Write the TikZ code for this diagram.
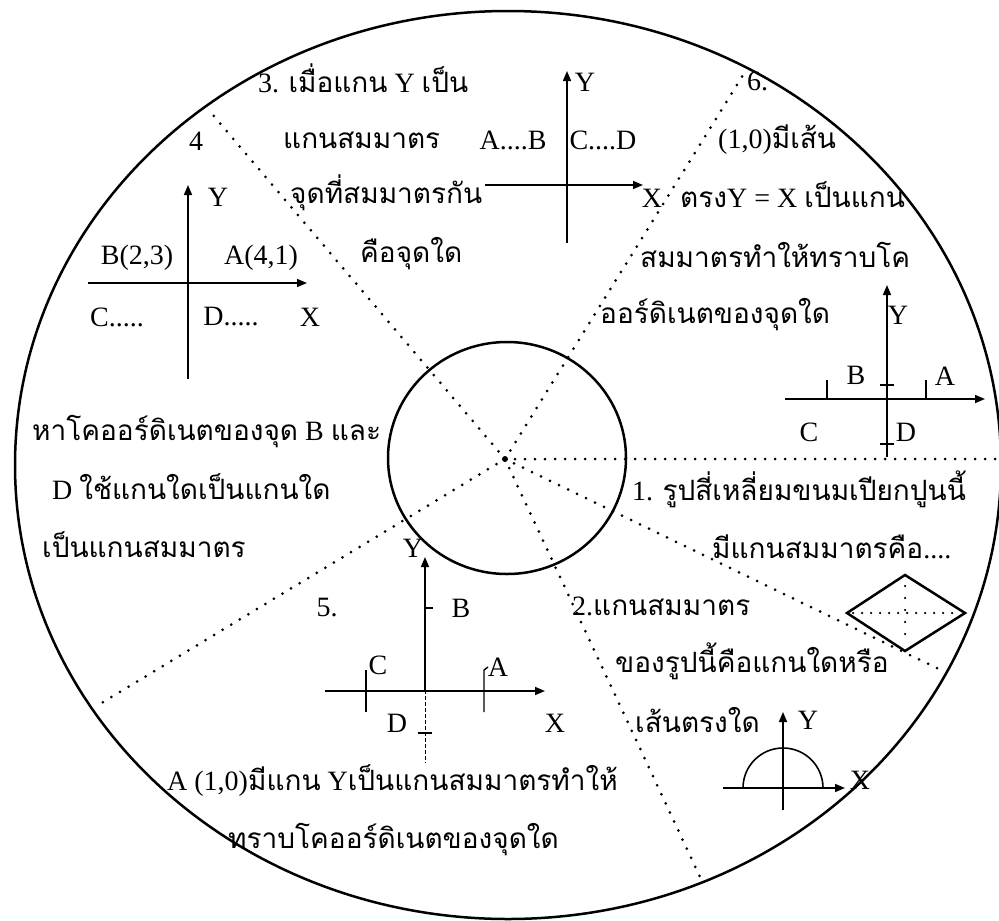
\documentclass[tikz,border=0pt]{standalone}
\usepackage{fontspec}
\setmainfont{Liberation Serif}
\newfontfamily\thai[Script=Thai]{Loma}
\usetikzlibrary{arrows.meta}
\begin{document}
\begin{tikzpicture}[x=1pt,y=-1pt,
  txt/.style={anchor=base west, inner sep=0pt, font=\fontsize{28}{32}\selectfont},
  lbl/.style={inner sep=0pt, font=\fontsize{28}{32}\selectfont},
  axarr/.style={line width=1.6pt, -{Triangle[length=10pt,width=8pt]}},
  dotline/.style={line width=3pt, line cap=round, dash pattern=on 0pt off 10pt},
  tickline/.style={line width=1.4pt}]
\useasboundingbox (0,0) rectangle (999,921);
% circles
\draw[line width=2.5pt] (508,465) ellipse [x radius=493, y radius=454];
\draw[line width=2.5pt] (507,458) ellipse [x radius=119, y radius=116];
% centre and dotted dividers
\coordinate (O) at (505,459);
\fill (O) circle [radius=3];
\coordinate (eR) at (999,459);
\coordinate (eUL) at (213,115);
\coordinate (eUR) at (745,72);
\coordinate (eLL) at (95,707);
\coordinate (eLR) at (700,877);
\coordinate (eLS) at (945,672);
\foreach \e in {eR,eUL,eUR,eLL,eLR,eLS} \draw[dotline] (O) -- (\e);

% ---- section 3 ----
\node[txt] (t3a) at (258,92) {3. {\thai เมื่อแกน} Y {\thai เป็น}};
\node[txt] (t3b) at (283,148) {\thai แกนสมมาตร};
\node[txt] (t3c) at (290,203) {\thai จุดที่สมมาตรกัน};
\node[txt] (t3d) at (360,262) {\thai คือจุดใด};
\coordinate (y3a) at (567,243); \coordinate (y3b) at (567,71);
\coordinate (x3a) at (485,185); \coordinate (x3b) at (643,185);
\draw[axarr] (y3a) -- (y3b);
\draw[axarr] (x3a) -- (x3b);
\node[lbl] (l3y) at (585,82) {Y};
\node[lbl] (l3ab) at (513,140) {A....B};
\node[lbl] (l3cd) at (603,140) {C....D};
\node[lbl] (l3x) at (652,198) {X};

% ---- section 4 ----
\node[lbl] (l4n) at (196,141) {4};
\coordinate (y4a) at (188,379); \coordinate (y4b) at (188,185);
\coordinate (x4a) at (88,283); \coordinate (x4b) at (307,283);
\draw[axarr] (y4a) -- (y4b);
\draw[axarr] (x4a) -- (x4b);
\node[lbl] (l4y) at (218,197) {Y};
\node[lbl] (l4b) at (137,258) {B(2,3)};
\node[lbl] (l4a) at (261,258) {A(4,1)};
\node[lbl] (l4c) at (117,317) {C.....};
\node[lbl] (l4d) at (231,317) {D.....};
\node[lbl] (l4x) at (310,317) {X};
\node[txt] (t4a) at (32,440) {{\thai หาโคออร์ดิเนตของจุด} B {\thai และ}};
\node[txt] (t4b) at (52,499) {D {\thai ใช้แกนใดเป็นแกนใด}};
\node[txt] (t4c) at (42,557) {\thai เป็นแกนสมมาตร};

% ---- section 6 ----
\node[txt] (t6a) at (747,90) {6.};
\node[txt] (t6b) at (718,148) {(1,0){\thai มีเส้น}};
\node[txt] (t6c) at (680,207) {{\thai ตรง}Y = X {\thai เป็นแกน}};
\node[txt] (t6d) at (640,267) {\thai สมมาตรทำให้ทราบโค};
\node[txt] (t6e) at (600,323) {\thai ออร์ดิเนตของจุดใด};
\coordinate (y6a) at (887,457); \coordinate (y6b) at (887,285);
\coordinate (x6a) at (785,399); \coordinate (x6b) at (985,399);
\draw[axarr] (y6a) -- (y6b);
\draw[axarr] (x6a) -- (x6b);
\draw[tickline] (827,380) -- (827,399);
\draw[tickline] (926,380) -- (926,399);
\draw[tickline] (880,385) -- (894,385);
\draw[tickline] (880,444) -- (894,444);
\node[lbl] (l6y) at (898,315) {Y};
\node[lbl] (l6b) at (856,375) {B};
\node[lbl] (l6a) at (945,376) {A};
\node[lbl] (l6c) at (809,432) {C};
\node[lbl] (l6d) at (906,432) {D};

% ---- section 1 ----
\node[txt] (t1a) at (632,500) {1. {\thai รูปสี่เหลี่ยมขนมเปียกปูนนี้}};
\node[txt] (t1b) at (712,558) {{\thai มีแกนสมมาตรคือ}....};
\coordinate (dL) at (847,613); \coordinate (dT) at (905,575);
\coordinate (dR) at (965,613); \coordinate (dB) at (905,651);
\draw[line width=2.5pt, line join=miter] (dL) -- (dT) -- (dR) -- (dB) -- cycle;
\draw[line width=2.5pt, line cap=round, dash pattern=on 0pt off 9pt] (853,613) -- (960,613);
\draw[line width=2.5pt, line cap=round, dash pattern=on 0pt off 12pt] (905,586) -- (905,645);

% ---- section 2 ----
\node[txt] (t2a) at (572,615) {2.{\thai แกนสมมาตร}};
\node[txt] (t2b) at (615,672) {\thai ของรูปนี้คือแกนใดหรือ};
\node[txt] (t2c) at (635,732) {\thai เส้นตรงใด};
\coordinate (y2a) at (783,810); \coordinate (y2b) at (783,712);
\coordinate (x2a) at (723,788); \coordinate (x2b) at (845,788);
\draw[line width=1.6pt] (743,788) arc[start angle=180, end angle=360, radius=40];
\draw[axarr] (y2a) -- (y2b);
\draw[axarr] (x2a) -- (x2b);
\node[lbl] (l2y) at (808,720) {Y};
\node[lbl] (l2x) at (860,780) {X};

% ---- section 5 ----
\node[lbl] (l5n) at (327,608) {5.};
\coordinate (y5a) at (425,690); \coordinate (y5b) at (425,557);
\coordinate (y5c) at (425,763);
\coordinate (x5a) at (325,691); \coordinate (x5b) at (545,691);
\draw[axarr] (y5a) -- (y5b);
\draw[line width=1pt, dash pattern=on 4pt off 2pt] (y5a) -- (y5c);
\draw[axarr] (x5a) -- (x5b);
\draw[tickline] (366,670) -- (366,712);
\draw[tickline] (484,712) -- (484,670) -- (488,667);
\draw[tickline] (425,608) -- (433,608);
\draw[tickline] (418,733) -- (432,733);
\node[lbl] (l5y) at (413,548) {Y};
\node[lbl] (l5b) at (461,608) {B};
\node[lbl] (l5c) at (378,665) {C};
\node[lbl] (l5a) at (498,667) {A};
\node[lbl] (l5d) at (397,723) {D};
\node[lbl] (l5x) at (555,723) {X};
\node[txt] (t5a) at (167,790) {A (1,0){\thai มีแกน} Y{\thai เป็นแกนสมมาตรทำให้}};
\node[txt] (t5b) at (228,848) {\thai ทราบโคออร์ดิเนตของจุดใด};
\end{tikzpicture}
\end{document}
